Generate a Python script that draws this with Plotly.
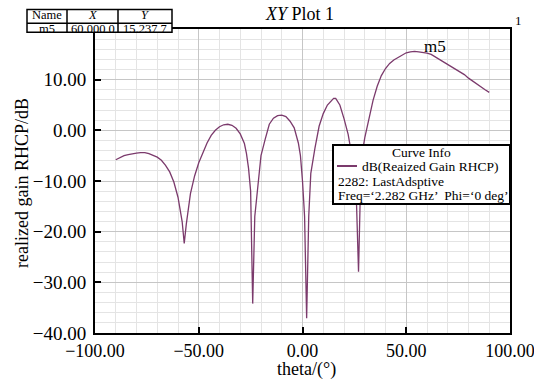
import plotly.graph_objects as go

# ---------------- data ----------------
theta = [-90, -88, -86, -84, -82, -80, -78, -76, -74, -72, -70, -68, -66, -64, -62,
         -60, -58, -57, -56, -54, -52, -50, -48, -46, -44, -42, -40, -38, -36, -34,
         -32, -30, -28, -27, -26, -25, -24, -23, -22, -21, -20, -18, -16, -14, -12,
         -10, -8, -6, -4, -2, -1, 0, 1, 2, 3, 4, 5, 6, 8, 10, 12, 14, 15, 16, 18,
         20, 22, 24, 25, 26, 27, 28, 29, 30, 32, 34, 36, 38, 40, 42, 44, 46, 48,
         50, 52, 54, 56, 58, 60, 62, 64, 66, 68, 70, 72, 74, 76, 78, 80, 82, 84,
         86, 88, 90]
gain_db = [-5.8, -5.4, -5.0, -4.8, -4.6, -4.5, -4.4, -4.4, -4.6, -4.9, -5.3, -5.9, -6.9, -8.2, -10.2,
           -13.2, -18.0, -22.3, -18.5, -12.5, -9.0, -6.4, -4.3, -2.5, -1.0, 0.0, 0.7, 1.1, 1.2, 1.0,
           0.4, -0.7, -2.6, -4.6, -7.5, -12.0, -34.2, -17.0, -13.0, -9.5, -5.0, -1.8, 1.2, 2.4, 2.9,
           3.0, 2.7, 1.8, 0.5, -2.5, -5.0, -10.0, -17.0, -37.1, -17.0, -8.5, -5.5, -3.5, 0.8, 3.3, 5.0, 6.0, 6.3, 6.3, 5.0,
           2.3, -0.8, -5.5, -8.5, -14.0, -27.9, -10.0, -4.0, -1.5, 2.5, 5.9, 8.7, 10.8, 12.2, 13.2, 13.9, 14.4, 14.9,
           15.3, 15.5, 15.6, 15.5, 15.4, 15.24, 15.0, 14.5, 14.0, 13.5, 13.1, 12.6, 12.1, 11.5, 11.0, 10.3, 9.7, 9.1,
           8.5, 8.0, 7.5]

marker_name = "m5"
marker_x = 60.0
marker_y = 15.2377
x_tick_vals = [-100, -50, 0, 50, 100]
y_tick_vals = [-40, -30, -20, -10, 0, 10]
x_title = "theta/(\u00b0)"
y_title = "realized gain RHCP/dB"
curve_name = "dB(Reaized Gain RHCP)"
curve_info = ["2282: LastAdsptive", "Freq=\u20182.282 GHz\u2019  Phi=\u20180 deg\u2019"]

# ---------------- layout helpers ----------------
W, H = 534, 379
L, R, T, B = 95, 510, 29, 333
FONT = "Liberation Serif"
LINE_COLOR = "#7b3a6c"


def px(x):
    return (x - L) / (R - L)


def py(y):
    return (B - y) / (B - T)


fig = go.Figure()
fig.add_trace(go.Scatter(x=theta, y=gain_db, mode="lines",
                         line=dict(color=LINE_COLOR, width=1.3),
                         showlegend=False, name=curve_name))

axis_common = dict(
    showline=True, linecolor="black", linewidth=2, mirror=True,
    ticks="inside", ticklen=6, tickwidth=2, tickcolor="black",
    tickformat=".2f", zeroline=False, ticklabeloverflow="allow", automargin=False,
    gridcolor="#c6c6c6", gridwidth=1,
)

fig.update_layout(
    width=W, height=H,
    margin=dict(l=L, r=W - R, t=T, b=H - B),
    paper_bgcolor="white", plot_bgcolor="white",
    font=dict(family=FONT, color="black"),
    xaxis=dict(range=[-100, 100], tickvals=x_tick_vals,
               minor=dict(dtick=10, tick0=0, showgrid=True, gridcolor="#e4e4e4", ticks=""),
               ticklabelstandoff=0,
               tickfont=dict(family=FONT, size=18, color="black"),
               **axis_common),
    yaxis=dict(range=[-40, 20], tickvals=y_tick_vals,
               minor=dict(dtick=2, tick0=0, showgrid=True, gridcolor="#e4e4e4", ticks=""),
               ticklabelstandoff=3,
               tickfont=dict(family=FONT, size=19, color="black"),
               **axis_common),
)

shapes = []
annots = []

# axis titles
annots.append(dict(text=x_title, x=px(306.5), y=py(369), xref="paper", yref="paper",
                   showarrow=False, font=dict(family=FONT, size=18, color="black"),
                   xanchor="center", yanchor="middle"))
annots.append(dict(text=y_title, x=px(22), y=py(183), xref="paper", yref="paper",
                   showarrow=False, font=dict(family=FONT, size=18, color="black"),
                   xanchor="center", yanchor="middle", textangle=-90))

# title and page number
annots.append(dict(text="<i>XY</i> Plot 1", x=px(299), y=py(14), xref="paper", yref="paper",
                   showarrow=False, font=dict(family=FONT, size=18, color="black"),
                   xanchor="center", yanchor="middle"))
annots.append(dict(text="1", x=px(518), y=py(21), xref="paper", yref="paper",
                   showarrow=False, font=dict(family=FONT, size=13, color="black"),
                   xanchor="center", yanchor="middle"))

# marker table (top-left)
tx = [27, 67, 118, 172]
ty = [9.5, 23.3, 32.3]
shapes.append(dict(type="rect", xref="paper", yref="paper", x0=px(tx[0]), x1=px(tx[3]),
                   y0=py(ty[0]), y1=py(ty[2]), line=dict(color="black", width=1.5),
                   fillcolor="white", layer="above"))
for xv in tx[1:3]:
    shapes.append(dict(type="line", xref="paper", yref="paper", x0=px(xv), x1=px(xv),
                       y0=py(ty[0]), y1=py(ty[2]), line=dict(color="black", width=1.5), layer="above"))
shapes.append(dict(type="line", xref="paper", yref="paper", x0=px(tx[0]), x1=px(tx[3]),
                   y0=py(ty[1]), y1=py(ty[1]), line=dict(color="black", width=1.5), layer="above"))
header = ["Name", "<i>X</i>", "<i>Y</i>"]
row = [marker_name, f"{marker_x:.3f} 0", "15.237 7"]
for i in range(3):
    cx = (tx[i] + tx[i + 1]) / 2
    annots.append(dict(text=header[i], x=px(cx), y=py(15.3), xref="paper", yref="paper",
                       showarrow=False, font=dict(family=FONT, size=12.5, color="black"),
                       xanchor="center", yanchor="middle", borderpad=0))
    annots.append(dict(text=row[i], x=px(cx), y=py(29), xref="paper", yref="paper",
                       showarrow=False, font=dict(family=FONT, size=12.5, color="black"),
                       xanchor="center", yanchor="middle", borderpad=0))

# m5 label
annots.append(dict(text=marker_name, x=marker_x, y=marker_y, xref="x", yref="y",
                   showarrow=False, font=dict(family=FONT, size=17, color="black"),
                   xanchor="center", yanchor="middle", xshift=8, yshift=7))

# curve info box
bx0, bx1, by0, by1 = 333, 510, 145, 204
shapes.append(dict(type="rect", xref="paper", yref="paper", x0=px(bx0), x1=px(bx1),
                   y0=py(by0), y1=py(by1), line=dict(color="black", width=2),
                   fillcolor="white", layer="above"))
shapes.append(dict(type="line", xref="paper", yref="paper", x0=px(337), x1=px(357),
                   y0=py(166), y1=py(166), line=dict(color=LINE_COLOR, width=2), layer="above"))
annots.append(dict(text="Curve Info", x=px(421.5), y=py(152), xref="paper", yref="paper",
                   showarrow=False, font=dict(family=FONT, size=13.5, color="black"),
                   xanchor="center", yanchor="middle"))
annots.append(dict(text=curve_name, x=px(360), y=py(166), xref="paper", yref="paper",
                   showarrow=False, font=dict(family=FONT, size=13.5, color="black"),
                   xanchor="left", yanchor="middle"))
annots.append(dict(text=curve_info[0], x=px(335.5), y=py(181), xref="paper", yref="paper",
                   showarrow=False, font=dict(family=FONT, size=13.5, color="black"),
                   xanchor="left", yanchor="middle"))
annots.append(dict(text=curve_info[1], x=px(335.5), y=py(195), xref="paper", yref="paper",
                   showarrow=False, font=dict(family=FONT, size=13.5, color="black"),
                   xanchor="left", yanchor="middle"))

fig.update_layout(shapes=shapes, annotations=annots)
fig.write_html("out.html")
